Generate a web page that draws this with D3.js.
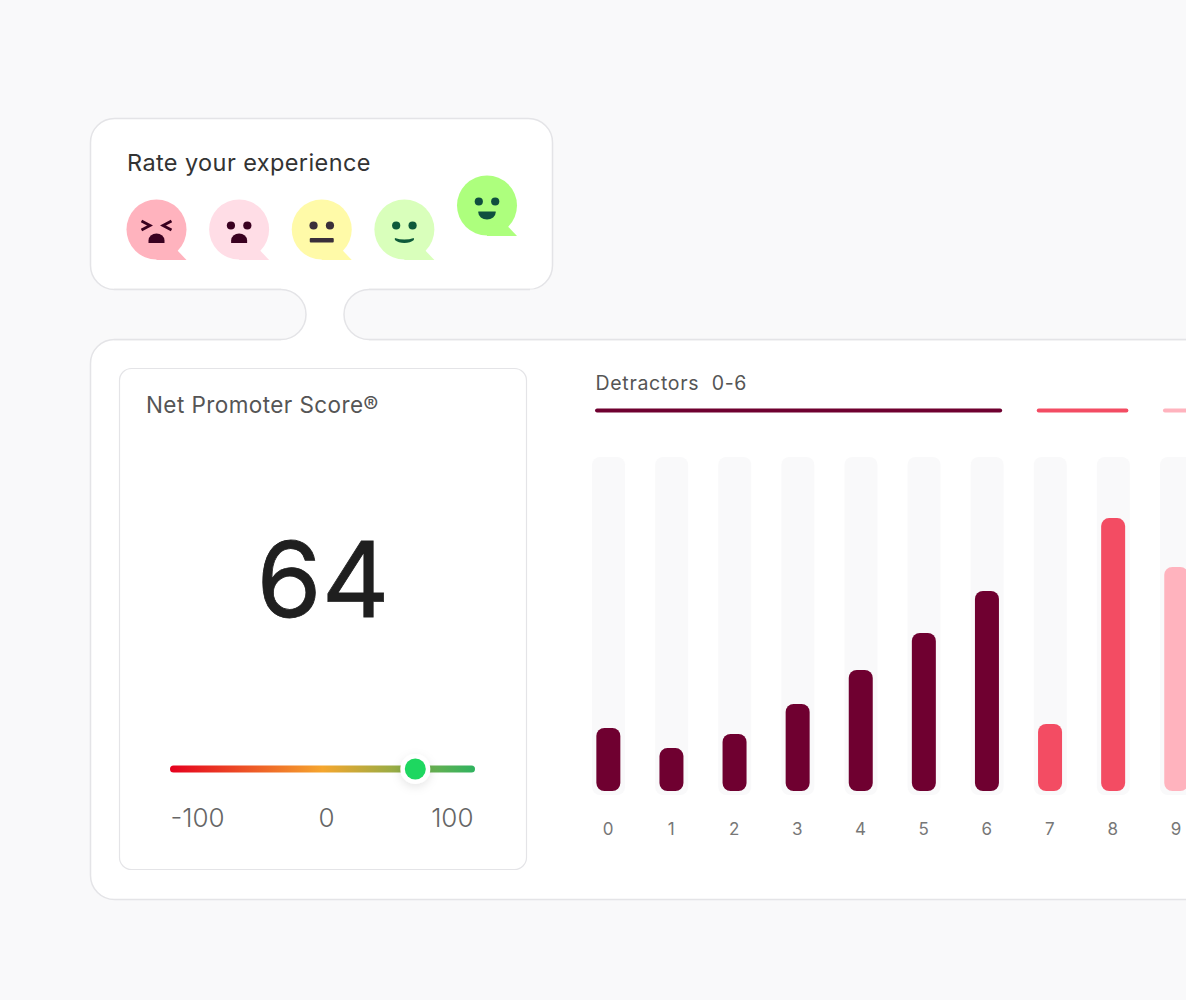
<!DOCTYPE html>
<html>
<head>
<meta charset="utf-8">
<script src="https://cdn.jsdelivr.net/npm/d3@7"></script>
<style>
  html, body { margin: 0; padding: 0; background: #f9f9fa; overflow: hidden; }
  svg { display: block; font-family: Inter, "Noto Sans", sans-serif; }
</style>
</head>
<body>
<svg id="chart" width="1186" height="1000"></svg>
<script>
// NPS dashboard: rating prompt, score gauge and response distribution.
const ratings = [0, 1, 2, 3, 4, 5, 6, 7, 8, 9];
const responses = [19.1, 13, 17.3, 26.4, 36.7, 47.9, 60.6, 20.3, 82.7, 67.9];
const groupNames = ["Detractors", "Passives", "Promoters"];
const groupFirst = [0, 7, 9];
const groupLast = [6, 8, 10];
const groupColors = ["#6f0030", "#f34c63", "#ffb3be"];
const npsScore = 64;
const gaugeTicks = [-100, 0, 100];
const gaugeStops = ["#e5001e", "#f5a62e", "#2fb35f"];
const moods = ["angry", "sad", "neutral", "content", "happy"];
const moodFills = ["#ffb3be", "#ffdde6", "#fffaa8", "#d9ffbb", "#adff7d"];
const moodInks = ["#3a0020", "#3a0020", "#3a2f3a", "#0e5a3a", "#0f4f3f"];

const pageBg = "#f9f9fa", edge = "#e4e4e7";
const svg = d3.select("#chart");
svg.append("rect").attr("width", 1186).attr("height", 1000).attr("fill", pageBg);

const defs = svg.append("defs");
const grad = defs.append("linearGradient").attr("id", "gaugeGrad");
gaugeStops.forEach((c, i) => grad.append("stop").attr("offset", i / 2).attr("stop-color", c));
const shadow = defs.append("filter").attr("id", "knobShadow")
  .attr("x", "-60%").attr("y", "-60%").attr("width", "220%").attr("height", "220%");
shadow.append("feDropShadow").attr("dx", 0).attr("dy", 3).attr("stdDeviation", 5)
  .attr("flood-color", "#000").attr("flood-opacity", 0.1);

// Card shells and the channel joining them
const shell = svg.append("g");
shell.append("rect").attr("x", 90.5).attr("y", 118.5).attr("width", 462).attr("height", 171).attr("rx", 24)
  .attr("fill", "#fff").attr("stroke", edge).attr("stroke-width", 1.5);
shell.append("rect").attr("x", 90.5).attr("y", 339.5).attr("width", 1200).attr("height", 560).attr("rx", 24)
  .attr("fill", "#fff").attr("stroke", edge).attr("stroke-width", 1.5);
shell.append("rect").attr("x", 281).attr("y", 285).attr("width", 88).attr("height", 60).attr("fill", "#fff");
shell.append("path")
  .attr("d", "M114,289.5H281A25,25 0 0 1 306,314.5A25,25 0 0 1 281,339.5H114Z")
  .attr("fill", pageBg).attr("stroke", "none");
shell.append("path")
  .attr("d", "M114,289.5H281A25,25 0 0 1 306,314.5A25,25 0 0 1 281,339.5H114")
  .attr("fill", "none").attr("stroke", edge).attr("stroke-width", 1.5);
shell.append("path")
  .attr("d", "M530,289.5H369A25,25 0 0 0 344,314.5A25,25 0 0 0 369,339.5H1186V289.5Z")
  .attr("fill", pageBg).attr("stroke", "none");
shell.append("path")
  .attr("d", "M530,289.5H369A25,25 0 0 0 344,314.5A25,25 0 0 0 369,339.5H1186")
  .attr("fill", "none").attr("stroke", edge).attr("stroke-width", 1.5);
shell.append("rect").attr("x", 119.5).attr("y", 368.5).attr("width", 407).attr("height", 501).attr("rx", 12)
  .attr("fill", "#fff").attr("stroke", edge).attr("stroke-width", 1.2);

// Rating prompt with five speech-bubble faces
svg.append("text").attr("x", 127).attr("y", 171).attr("font-size", 23.5).attr("fill", "#333")
  .attr("letter-spacing", 0.4).text("Rate your experience");

const moodX = d3.scalePoint().domain(moods).range([156.5, 487]);
const dome = "M-8,13.5V11A8,7 0 0 1 8,11V13.5Z";

const faces = svg.selectAll("g.face").data(moods).join("g").attr("class", "face")
  .attr("transform", d => `translate(${moodX(d)},${d === "happy" ? 205.5 : 229.5})`);
faces.append("circle").attr("r", 30).attr("fill", (d, i) => moodFills[i]);
faces.append("path").attr("d", "M0,30.5H30L20,20L0,20Z").attr("fill", (d, i) => moodFills[i]);
faces.each(function (mood, i) {
  const f = d3.select(this), ink = moodInks[i];
  if (mood === "angry") {
    f.append("path").attr("d", "M-15,-8.5L-6.5,-4L-15,0.5M15,-8.5L6.5,-4L15,0.5")
      .attr("fill", "none").attr("stroke", ink).attr("stroke-width", 2.8);
  } else {
    [-8.2, 8.2].forEach(x => f.append("circle").attr("cx", x).attr("cy", -4).attr("r", 4.1).attr("fill", ink));
  }
  if (mood === "angry" || mood === "sad") f.append("path").attr("d", dome).attr("fill", ink);
  if (mood === "neutral") f.append("rect").attr("x", -12).attr("y", 8.5).attr("width", 24).attr("height", 4.4).attr("rx", 1).attr("fill", ink);
  if (mood === "content") f.append("path").attr("d", "M-9.5,8.5Q0,11.5 9.5,8.5L9.5,10.5Q6,13.5 0,13.5Q-6,13.5 -9.5,10.5Z").attr("fill", ink);
  if (mood === "happy") f.append("path").attr("d", "M-8.7,6H8.7V7A8.7,7 0 0 1 -8.7,7Z").attr("fill", ink);
});

// Score panel
svg.append("text").attr("x", 146).attr("y", 413).attr("font-size", 22.5).attr("fill", "#555")
  .attr("letter-spacing", 0.42).text("Net Promoter Score®");
svg.append("text").attr("x", 323).attr("y", 617).attr("text-anchor", "middle").attr("font-size", 105)
  .attr("fill", "#1f1f1f").attr("stroke", "#1f1f1f").attr("stroke-width", 0.8).text(npsScore);

const gauge = d3.scaleLinear().domain([-100, 100]).range([177.5, 467.5]);
const gaugeY = 769;
svg.append("rect").attr("x", 170).attr("y", gaugeY - 3.5).attr("width", 305).attr("height", 7).attr("rx", 3.5)
  .attr("fill", "url(#gaugeGrad)");
svg.append("circle").attr("cx", gauge(npsScore)).attr("cy", gaugeY).attr("r", 15).attr("fill", "#fff")
  .attr("filter", "url(#knobShadow)");
svg.append("circle").attr("cx", gauge(npsScore)).attr("cy", gaugeY).attr("r", 10.5).attr("fill", "#1ed760");
const tickAnchors = ["start", "middle", "end"];
const tickX = [gauge(-100) - 7, gauge(0) + 4, gauge(100) + 6];
svg.selectAll("text.gauge-tick").data(gaugeTicks).join("text").attr("class", "gauge-tick")
  .attr("x", (d, i) => tickX[i]).attr("y", 827).attr("text-anchor", (d, i) => tickAnchors[i])
  .attr("font-size", 26).attr("font-weight", 300).attr("fill", "#666").text(d => d);

// Response distribution
const x = d3.scaleBand().domain(ratings).range([576.5, 1207.5]);
const y = d3.scaleLinear().domain([0, 100]).range([791, 461]);
const centre = r => x(r) + x.bandwidth() / 2;
const colourOf = r => groupColors[groupFirst.findIndex((s, i) => r >= s && r <= groupLast[i])];

svg.append("text").attr("x", 595.5).attr("y", 390).attr("font-size", 19.5).attr("fill", "#555")
  .style("white-space", "pre").attr("letter-spacing", 0.7)
  .text(groupNames[0] + "  0-6");

svg.selectAll("rect.group-rule").data(groupNames).join("rect").attr("class", "group-rule")
  .attr("x", (d, i) => centre(groupFirst[i]) - 13)
  .attr("y", 408.5)
  .attr("width", (d, i) => (i === 2 ? 100 : centre(groupLast[i]) + 15.5 - (centre(groupFirst[i]) - 13)))
  .attr("height", 4).attr("rx", 2)
  .attr("fill", (d, i) => groupColors[i]);

svg.selectAll("rect.track").data(ratings).join("rect").attr("class", "track")
  .attr("x", d => centre(d) - 16).attr("y", 457).attr("width", 33).attr("height", 338).attr("rx", 8)
  .attr("fill", pageBg);
svg.selectAll("rect.bar").data(ratings).join("rect").attr("class", "bar")
  .attr("x", d => centre(d) - 12 + 0.3).attr("width", 24).attr("rx", 8)
  .attr("y", (d, i) => y(responses[i])).attr("height", (d, i) => y(0) - y(responses[i]))
  .attr("fill", d => colourOf(d));

const axis = d3.axisBottom(x).tickSize(0).tickPadding(0);
const axisG = svg.append("g").attr("transform", "translate(0,823)").call(axis);
axisG.select(".domain").remove();
axisG.selectAll("text").attr("font-size", 17).attr("font-family", "Inter, sans-serif").attr("fill", "#777");
</script>
</body>
</html>
